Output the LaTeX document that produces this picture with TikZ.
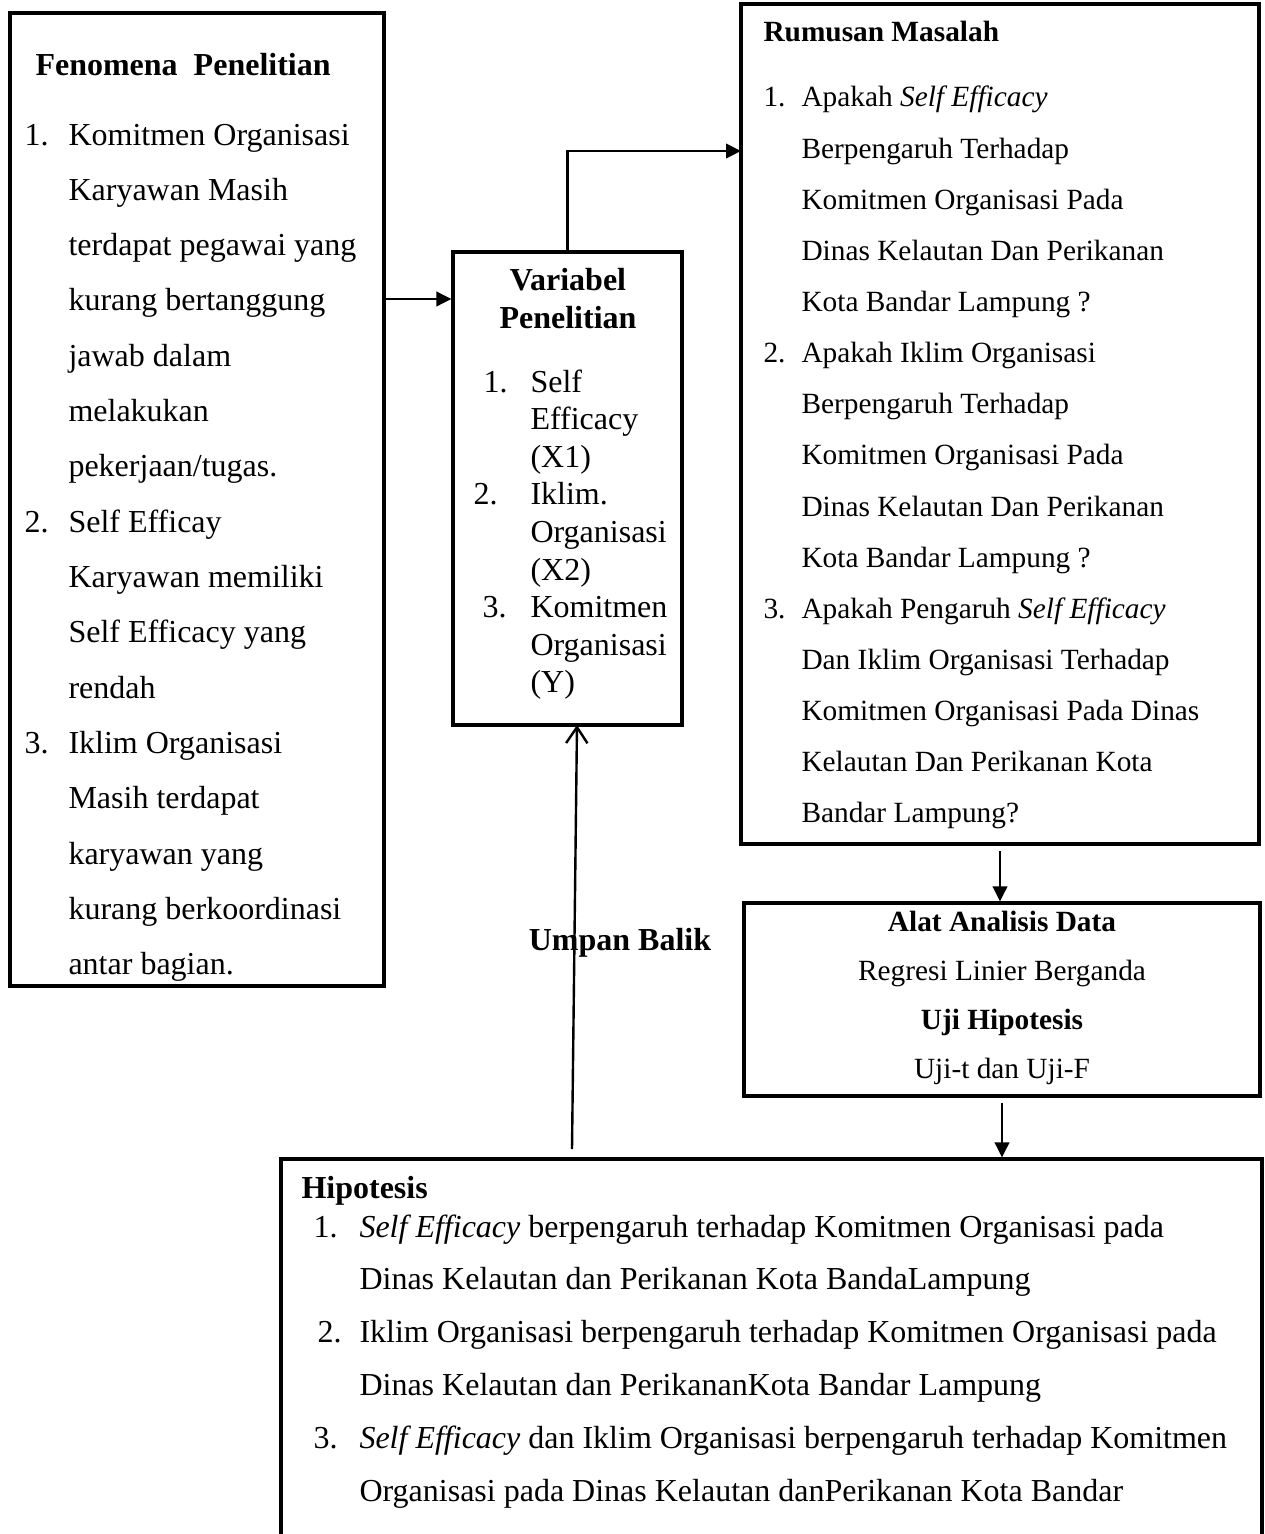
\documentclass[tikz,border=0pt]{standalone}
\usepackage{fontspec}
\setmainfont{Liberation Serif}
\usetikzlibrary{positioning,fit,arrows.meta}
\tikzset{
        txtnode/.style={inner sep=0pt},
        % Frames round each block
        node_box/.style={draw=black, line width=1.2pt, inner sep=0pt},
        % Lines of text
        node_line/.style={txtnode, anchor=base west, font=\fontsize{12}{14}\selectfont},
        node_small/.style={txtnode, anchor=base west, font=\fontsize{11}{13}\selectfont},
        % Headings
        node_head/.style={txtnode, anchor=base west, font=\fontsize{12}{14}\selectfont\bfseries},
        % Arrows
        edge_arrow/.style={-{Triangle[length=5.6pt,width=5.4pt]}, line width=0.9pt},
        edge_back/.style={-{Straight Barb[length=6pt,width=8pt]}, line width=0.9pt}
}
\begin{document}
\begin{tikzpicture}[x=0.375pt, y=-0.375pt]
    \useasboundingbox (0,0) rectangle (1264,1534);
    % boxes
    \node[node_box, fit={(10,13) (384,986)}] (fen) {};
    \node[node_box, fit={(453,252) (682,725)}] (var) {};
    \node[node_box, fit={(741,4) (1259,844)}] (rum) {};
    \node[node_box, fit={(744,903) (1260,1096)}] (alat) {};
    \node[node_box, fit={(281,1159) (1262,1580)}] (hip) {};

    % Fenomena Penelitian
    \node[node_head] (fenhead) at (35,76) {Fenomena\ \ Penelitian};
    \foreach \t [count=\i from 0] in {Komitmen Organisasi, Karyawan Masih, terdapat pegawai yang,
        kurang bertanggung, jawab dalam, melakukan, pekerjaan/tugas., Self Efficay,
        Karyawan memiliki, Self Efficacy yang, rendah, Iklim Organisasi, Masih terdapat,
        karyawan yang, kurang berkoordinasi, antar bagian.}
        \node[node_line] (fen\i) at (68,{145+55.33*\i}) {\t};
    \node[node_line] (fennum1) at (24,145) {1.};
    \node[node_line] (fennum2) at (24,{145+55.33*7}) {2.};
    \node[node_line] (fennum3) at (24,{145+55.33*11}) {3.};

    % Variabel Penelitian
    \node[txtnode, anchor=base, font=\fontsize{12}{14}\selectfont\bfseries] (varhead1) at (568,290) {Variabel};
    \node[txtnode, anchor=base, font=\fontsize{12}{14}\selectfont\bfseries] (varhead2) at (568,328) {Penelitian};
    \foreach \t [count=\i from 0] in {Self, Efficacy, (X1), Iklim., Organisasi, (X2),
        Komitmen, Organisasi, (Y)}
        \node[node_line] (var\i) at (530,{392+37.6*\i}) {\t};
    \node[node_line] (varnum1) at (483,392) {1.};
    \node[node_line] (varnum2) at (473,{392+37.6*3}) {2.};
    \node[node_line] (varnum3) at (482,{392+37.6*6}) {3.};

    % Rumusan Masalah
    \node[node_small, font=\fontsize{11}{13}\selectfont\bfseries] (rumhead) at (763,42) {Rumusan Masalah};
    \foreach \t [count=\i from 0] in {Apakah \textit{Self Efficacy}, Berpengaruh Terhadap,
        Komitmen Organisasi Pada, Dinas Kelautan Dan Perikanan, Kota Bandar Lampung ?,
        Apakah Iklim Organisasi, Berpengaruh Terhadap, Komitmen Organisasi Pada,
        Dinas Kelautan Dan Perikanan, Kota Bandar Lampung ?,
        Apakah Pengaruh \textit{Self Efficacy}, Dan Iklim Organisasi Terhadap,
        Komitmen Organisasi Pada Dinas, Kelautan Dan Perikanan Kota, Bandar Lampung?}
        \node[node_small] (rum\i) at (801,{107+51.14*\i}) {\t};
    \node[node_small] (rumnum1) at (763,107) {1.};
    \node[node_small] (rumnum2) at (763,{107+51.14*5}) {2.};
    \node[node_small] (rumnum3) at (763,{107+51.14*10}) {3.};

    % Alat Analisis Data
    \node[txtnode, anchor=base, font=\fontsize{11}{13}\selectfont\bfseries] (alat1) at (1002,931) {Alat Analisis Data};
    \node[txtnode, anchor=base, font=\fontsize{11}{13}\selectfont] (alat2) at (1002,980) {Regresi Linier Berganda};
    \node[txtnode, anchor=base, font=\fontsize{11}{13}\selectfont\bfseries] (alat3) at (1002,1029) {Uji Hipotesis};
    \node[txtnode, anchor=base, font=\fontsize{11}{13}\selectfont] (alat4) at (1002,1078) {Uji-t dan Uji-F};

    % Hipotesis
    \node[node_head] (hiphead) at (301,1198) {Hipotesis};
    \foreach \t [count=\i from 0] in {\textit{Self Efficacy} berpengaruh terhadap Komitmen Organisasi pada,
        Dinas Kelautan dan Perikanan Kota BandaLampung,
        Iklim Organisasi berpengaruh terhadap Komitmen Organisasi pada,
        Dinas Kelautan dan PerikananKota Bandar Lampung,
        \textit{Self Efficacy} dan Iklim Organisasi berpengaruh terhadap Komitmen,
        Organisasi pada Dinas Kelautan danPerikanan Kota Bandar}
        \node[node_line] (hip\i) at (359,{1237+52.8*\i}) {\t};
    \node[node_line] (hipnum1) at (313,1237) {1.};
    \node[node_line] (hipnum2) at (317,{1237+52.8*2}) {2.};
    \node[node_line] (hipnum3) at (313,{1237+52.8*4}) {3.};

    % feedback label
    \node[txtnode, font=\fontsize{12}{14}\selectfont\bfseries] (umpan) at (620,943) {Umpan Balik};

    % connectors
    \coordinate (fenout) at (384,299);
    \coordinate (rumin) at (741,151);
    \coordinate (ubstart) at (572,1149);
    \coordinate (ubend) at (577,725);
    \draw[edge_arrow] (fenout) -- (fenout -| var.west);
    \draw[edge_arrow] (var.north) |- (rumin);
    \draw[edge_arrow, shorten <=2pt] (rum.south) -- (rum.south |- alat.north);
    \draw[edge_arrow, shorten <=2pt] (alat.south) -- (alat.south |- hip.north);
    \draw[edge_back] (ubstart) -- (ubend);
\end{tikzpicture}
\end{document}
